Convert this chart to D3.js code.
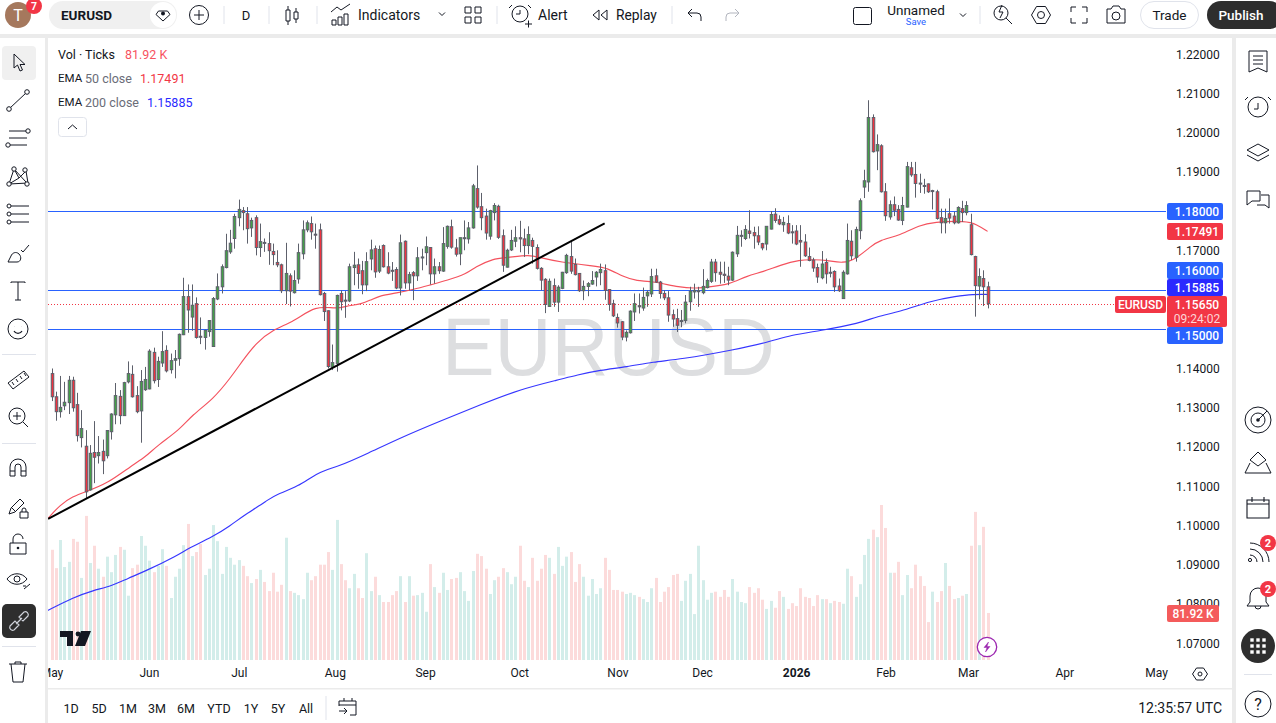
<!DOCTYPE html>
<html>
<head>
<meta charset="utf-8">
<title>EURUSD</title>
<script src="https://cdn.jsdelivr.net/npm/d3@7"></script>
<style>
  html, body { margin: 0; padding: 0; background: #fff; overflow: hidden; }
  svg { display: block; font-family: Roboto, "Liberation Sans", sans-serif; }
  text { fill: #131722; }
</style>
</head>
<body>
<div id="chart"></div>
<script>
// daily candles, May 2025 - Mar 2026
const opens = [
  1.1387,1.1328,1.1290,1.1305,1.1313,1.1370,1.1308,1.1224,1.1202,1.1091,
  1.1186,1.1178,1.1189,1.1178,1.1239,1.1282,1.1329,1.1280,1.1366,1.1385,
  1.1331,1.1292,1.1346,1.1348,1.1441,1.1372,1.1414,1.1446,1.1397,1.1421,
  1.1425,1.1486,1.1583,1.1531,1.1565,1.1482,1.1479,1.1494,1.1456,1.1577,
  1.1608,1.1657,1.1697,1.1731,1.1784,1.1802,1.1794,1.1758,1.1784,1.1708,
  1.1721,1.1718,1.1698,1.1670,1.1664,1.1598,1.1636,1.1593,1.1628,1.1692,
  1.1753,1.1769,1.1742,1.1753,1.1591,1.1547,1.1403,1.1413,1.1591,1.1574,
  1.1572,1.1657,1.1664,1.1649,1.1613,1.1679,1.1705,1.1648,1.1713,1.1659,
  1.1650,1.1652,1.1605,1.1724,1.1618,1.1644,1.1636,1.1682,1.1695,1.1708,
  1.1641,1.1659,1.1648,1.1711,1.1761,1.1707,1.1692,1.1732,1.1730,1.1758,
  1.1858,1.1812,1.1788,1.1737,1.1797,1.1813,1.1738,1.1658,1.1702,1.1724,
  1.1733,1.1730,1.1713,1.1726,1.1708,1.1655,1.1627,1.1558,1.1611,1.1569,
  1.1604,1.1644,1.1685,1.1665,1.1642,1.1598,1.1609,1.1615,1.1633,1.1644,
  1.1649,1.1601,1.1565,1.1530,1.1519,1.1480,1.1491,1.1544,1.1560,1.1554,
  1.1585,1.1590,1.1636,1.1620,1.1591,1.1580,1.1537,1.1527,1.1521,1.1522,
  1.1570,1.1595,1.1596,1.1593,1.1606,1.1622,1.1671,1.1645,1.1640,1.1635,
  1.1625,1.1692,1.1737,1.1731,1.1750,1.1746,1.1738,1.1718,1.1717,1.1755,
  1.1793,1.1779,1.1766,1.1769,1.1748,1.1750,1.1726,1.1722,1.1685,1.1676,
  1.1657,1.1631,1.1670,1.1643,1.1647,1.1610,1.1578,1.1641,1.1724,1.1683,
  1.1751,1.1862,1.1875,1.2039,1.1954,1.1967,1.1850,1.1786,1.1817,1.1805,
  1.1777,1.1811,1.1911,1.1894,1.1872,1.1866,1.1870,1.1851,1.1850,1.1784,
  1.1771,1.1794,1.1788,1.1771,1.1807,1.1797,1.1766,1.1685,1.1610,1.1629,
  1.1608
];
const highs = [
  1.1400,1.1341,1.1381,1.1366,1.1381,1.1379,1.1338,1.1294,1.1243,1.1205,
  1.1266,1.1228,1.1219,1.1243,1.1286,1.1363,1.1345,1.1366,1.1418,1.1408,
  1.1355,1.1396,1.1404,1.1449,1.1453,1.1430,1.1495,1.1459,1.1438,1.1447,
  1.1489,1.1631,1.1614,1.1614,1.1581,1.1530,1.1499,1.1523,1.1582,1.1642,
  1.1665,1.1743,1.1753,1.1794,1.1830,1.1811,1.1811,1.1784,1.1790,1.1769,
  1.1731,1.1747,1.1718,1.1701,1.1667,1.1720,1.1642,1.1650,1.1718,1.1777,
  1.1777,1.1787,1.1769,1.1769,1.1595,1.1548,1.1461,1.1588,1.1599,1.1597,
  1.1667,1.1697,1.1680,1.1674,1.1696,1.1728,1.1713,1.1713,1.1716,1.1696,
  1.1671,1.1658,1.1741,1.1726,1.1646,1.1648,1.1709,1.1705,1.1736,1.1709,
  1.1680,1.1671,1.1760,1.1764,1.1779,1.1730,1.1733,1.1777,1.1773,1.1870,
  1.1917,1.1847,1.1807,1.1804,1.1821,1.1817,1.1754,1.1705,1.1753,1.1762,
  1.1776,1.1756,1.1762,1.1733,1.1716,1.1658,1.1630,1.1629,1.1629,1.1612,
  1.1646,1.1692,1.1724,1.1680,1.1643,1.1624,1.1620,1.1648,1.1648,1.1667,
  1.1665,1.1601,1.1575,1.1540,1.1521,1.1497,1.1548,1.1591,1.1591,1.1606,
  1.1599,1.1654,1.1654,1.1623,1.1599,1.1597,1.1550,1.1552,1.1549,1.1587,
  1.1608,1.1616,1.1608,1.1653,1.1629,1.1679,1.1679,1.1672,1.1672,1.1659,
  1.1698,1.1763,1.1752,1.1765,1.1803,1.1761,1.1762,1.1720,1.1762,1.1801,
  1.1808,1.1790,1.1786,1.1790,1.1765,1.1765,1.1765,1.1742,1.1708,1.1682,
  1.1667,1.1699,1.1680,1.1659,1.1650,1.1629,1.1650,1.1769,1.1752,1.1761,
  1.1833,1.1906,1.2083,1.2047,1.1996,1.1971,1.1872,1.1828,1.1838,1.1816,
  1.1837,1.1926,1.1926,1.1926,1.1896,1.1883,1.1871,1.1855,1.1855,1.1807,
  1.1807,1.1833,1.1799,1.1813,1.1827,1.1826,1.1794,1.1687,1.1655,1.1650,
  1.1621
];
const lows = [
  1.1317,1.1267,1.1275,1.1294,1.1284,1.1290,1.1214,1.1199,1.1069,1.1089,
  1.1108,1.1158,1.1131,1.1171,1.1219,1.1258,1.1258,1.1279,1.1362,1.1326,
  1.1286,1.1211,1.1343,1.1347,1.1362,1.1353,1.1404,1.1390,1.1387,1.1375,
  1.1407,1.1485,1.1491,1.1496,1.1476,1.1462,1.1448,1.1481,1.1455,1.1574,
  1.1591,1.1655,1.1692,1.1705,1.1762,1.1752,1.1718,1.1735,1.1688,1.1684,
  1.1697,1.1664,1.1663,1.1658,1.1592,1.1564,1.1558,1.1591,1.1616,1.1678,
  1.1747,1.1728,1.1705,1.1586,1.1521,1.1400,1.1396,1.1392,1.1548,1.1529,
  1.1569,1.1612,1.1603,1.1589,1.1597,1.1650,1.1631,1.1643,1.1657,1.1640,
  1.1623,1.1602,1.1586,1.1603,1.1599,1.1574,1.1623,1.1650,1.1663,1.1614,
  1.1616,1.1641,1.1646,1.1705,1.1705,1.1685,1.1663,1.1701,1.1718,1.1756,
  1.1807,1.1752,1.1728,1.1728,1.1777,1.1730,1.1646,1.1657,1.1699,1.1709,
  1.1696,1.1684,1.1691,1.1667,1.1652,1.1599,1.1541,1.1557,1.1557,1.1544,
  1.1602,1.1641,1.1641,1.1637,1.1595,1.1574,1.1584,1.1613,1.1609,1.1612,
  1.1575,1.1547,1.1531,1.1504,1.1472,1.1469,1.1489,1.1521,1.1540,1.1547,
  1.1557,1.1582,1.1618,1.1578,1.1574,1.1519,1.1506,1.1493,1.1505,1.1515,
  1.1547,1.1578,1.1557,1.1589,1.1604,1.1618,1.1621,1.1616,1.1618,1.1612,
  1.1623,1.1684,1.1710,1.1727,1.1731,1.1705,1.1714,1.1701,1.1701,1.1754,
  1.1771,1.1765,1.1748,1.1742,1.1718,1.1714,1.1659,1.1684,1.1673,1.1646,
  1.1618,1.1627,1.1616,1.1632,1.1595,1.1595,1.1577,1.1639,1.1676,1.1672,
  1.1729,1.1834,1.1850,1.1950,1.1905,1.1848,1.1776,1.1779,1.1788,1.1776,
  1.1765,1.1810,1.1888,1.1835,1.1847,1.1845,1.1847,1.1805,1.1779,1.1744,
  1.1744,1.1769,1.1767,1.1769,1.1773,1.1790,1.1688,1.1532,1.1576,1.1559,
  1.1553
];
const closes = [
  1.1328,1.1290,1.1301,1.1314,1.1370,1.1300,1.1229,1.1247,1.1086,1.1184,
  1.1174,1.1186,1.1165,1.1242,1.1284,1.1331,1.1280,1.1364,1.1387,1.1328,
  1.1290,1.1367,1.1372,1.1444,1.1369,1.1418,1.1443,1.1394,1.1420,1.1425,
  1.1487,1.1583,1.1549,1.1561,1.1479,1.1481,1.1497,1.1522,1.1578,1.1608,
  1.1659,1.1700,1.1719,1.1787,1.1805,1.1797,1.1756,1.1777,1.1708,1.1723,
  1.1719,1.1700,1.1690,1.1664,1.1598,1.1642,1.1597,1.1624,1.1695,1.1753,
  1.1771,1.1748,1.1740,1.1588,1.1545,1.1405,1.1415,1.1586,1.1570,1.1572,
  1.1659,1.1663,1.1642,1.1613,1.1672,1.1702,1.1646,1.1703,1.1659,1.1643,
  1.1649,1.1605,1.1720,1.1618,1.1639,1.1636,1.1682,1.1684,1.1710,1.1641,
  1.1659,1.1649,1.1718,1.1762,1.1709,1.1691,1.1733,1.1733,1.1758,1.1865,
  1.1811,1.1784,1.1745,1.1802,1.1815,1.1734,1.1663,1.1701,1.1726,1.1733,
  1.1730,1.1713,1.1741,1.1711,1.1655,1.1625,1.1563,1.1622,1.1569,1.1607,
  1.1645,1.1688,1.1648,1.1639,1.1598,1.1609,1.1616,1.1624,1.1645,1.1652,
  1.1599,1.1563,1.1534,1.1516,1.1480,1.1492,1.1546,1.1565,1.1557,1.1581,
  1.1594,1.1634,1.1620,1.1591,1.1580,1.1536,1.1526,1.1510,1.1522,1.1569,
  1.1597,1.1599,1.1598,1.1609,1.1624,1.1671,1.1644,1.1640,1.1637,1.1625,
  1.1696,1.1739,1.1739,1.1754,1.1744,1.1738,1.1722,1.1707,1.1762,1.1792,
  1.1777,1.1768,1.1772,1.1745,1.1746,1.1717,1.1722,1.1687,1.1675,1.1656,
  1.1633,1.1666,1.1641,1.1645,1.1608,1.1598,1.1645,1.1726,1.1687,1.1754,
  1.1827,1.1878,1.2039,1.1952,1.1970,1.1850,1.1789,1.1817,1.1803,1.1778,
  1.1815,1.1914,1.1893,1.1871,1.1870,1.1864,1.1850,1.1853,1.1782,1.1771,
  1.1782,1.1783,1.1771,1.1810,1.1797,1.1815,1.1690,1.1611,1.1634,1.1608,
  1.1565
];
// tick volume, in thousands
const volumes = [
  192,160,209,162,171,211,206,143,251,169,199,159,145,180,153,183,197,192,112,160,
  166,216,199,173,153,164,193,164,108,145,159,200,237,181,188,202,148,159,235,207,
  150,197,178,166,174,164,146,134,141,157,136,120,152,119,131,213,120,117,113,106,
  152,139,146,166,166,188,157,244,167,139,125,150,125,108,186,120,145,113,101,101,
  113,120,146,101,146,112,113,117,84,167,127,117,152,122,141,143,153,120,103,155,
  185,181,159,115,139,145,160,153,132,145,199,138,127,178,138,159,183,178,150,197,
  164,180,188,136,167,145,112,141,115,125,178,157,122,122,119,115,117,113,110,106,
  101,125,143,101,119,127,148,150,103,138,150,80,199,139,105,117,119,110,122,110,
  141,119,101,99,127,117,125,105,89,103,91,120,110,89,99,94,125,110,108,94,
  113,106,106,99,103,101,98,159,146,110,132,183,211,227,214,270,230,152,152,171,
  113,148,125,166,146,129,66,119,101,120,169,129,106,108,112,115,199,258,200,232,
  81.92
];

// moving averages, sampled along the drawn lines: bar position + value
const ema50Bars = [-1,2,5,8,13,19,22,25,30,33,38,42,45,48,52,57,62,67,70,72.5,75,77.2,81.1,85,89.4,92.9,97.6,99.5,103.8,107,112.4,114.8,119.5,127.3,130.5,134.4,137.5,141.4,147.7,151.6,154.8,159.3,163.4,167.3,171.2,175.9,179,182.2,186,189.2,192.4,194.7,199.4,204.1,207.2,215,217.4,220];
const ema50Values = [1.1016,1.1053,1.1074,1.1086,1.1106,1.1154,1.1174,1.1205,1.1243,1.1281,1.1322,1.1375,1.1421,1.1464,1.1499,1.1519,1.1561,1.1551,1.1561,1.1563,1.1574,1.1586,1.1592,1.1601,1.1614,1.1624,1.1641,1.1658,1.1680,1.1682,1.1690,1.1682,1.1671,1.1661,1.1657,1.1633,1.1623,1.1622,1.1606,1.1604,1.1608,1.1614,1.1636,1.1646,1.1663,1.1677,1.1677,1.1676,1.1667,1.1680,1.1710,1.1727,1.1739,1.1765,1.1773,1.1776,1.1767,1.17491];
const ema200Bars = [-1,5.1,9.8,14.1,18,21.9,29.8,32.1,38,41.9,45.4,50.9,52.5,58,62.7,67.4,74.4,81.9,91.3,100.7,110.1,119.5,123.4,128.9,135.2,141.4,147.7,160.2,168.9,173.6,180.6,190,194,199.4,206.5,212.7,216.6,220];
const ema200Values = [1.0783,1.0817,1.0835,1.0846,1.0866,1.0883,1.0925,1.0942,1.0972,1.0999,1.1027,1.1065,1.1078,1.1099,1.1137,1.1150,1.1184,1.1223,1.1266,1.1307,1.1347,1.1372,1.1383,1.1396,1.1404,1.1417,1.1423,1.1447,1.1468,1.1485,1.1496,1.1515,1.1533,1.1544,1.1572,1.1584,1.1589,1.15885];

// hand drawn levels on the chart
const levels = [1.18, 1.16, 1.15];
const trendBars = [-0.8, 130];
const trendPrices = [1.1017, 1.17695];
const lastPrice = 1.1565;

const priceTicks = [1.22,1.21,1.20,1.19,1.17,1.14,1.13,1.12,1.11,1.10,1.09,1.08,1.07];
const monthBars = [0,22.9,44,66.6,87.8,109.9,133,152.9,175,196,215.4,238,259.6];
const monthLabels = ["May","Jun","Jul","Aug","Sep","Oct","Nov","Dec","2026","Feb","Mar","Apr","May"];
const ranges = [["1D",71],["5D",99],["1M",128],["3M",157],["6M",186],["YTD",219],["1Y",251],["5Y",278],["All",306]];

const width = 1276, height = 723;
const UP = "#43a047", DOWN = "#ef3340", WICK = "#5d606b";

const svg = d3.select("#chart").append("svg")
  .attr("width", width).attr("height", height);

const x = d3.scaleLinear().domain([0, 220]).range([51.5, 987.6]);
const y = d3.scaleLinear().domain([1.07, 1.22]).range([643.4, 54.3]);
const yVol = d3.scaleLinear().domain([0, 270]).range([660, 505]);

svg.append("rect").attr("width", width).attr("height", height).attr("fill", "#fff");

const plot = svg.append("g");

// volume
plot.append("g").selectAll("rect")
  .data(volumes)
  .join("rect")
  .attr("x", (d, i) => Math.round(x(i)) - 1)
  .attr("y", d => yVol(d))
  .attr("width", 3)
  .attr("height", d => yVol(0) - yVol(d))
  .attr("fill", (d, i) => closes[i] >= opens[i] ? "#d3edea" : "#fcdbdb");

// watermark
plot.append("text")
  .attr("x", 442).attr("y", 375)
  .attr("font-family", "Liberation Sans")
  .attr("font-size", 81)
  .attr("textLength", 333)
  .attr("lengthAdjust", "spacingAndGlyphs")
  .style("fill", "#dddee0")
  .text("EURUSD");

// levels
plot.append("g").selectAll("line")
  .data(levels)
  .join("line")
  .attr("x1", 48).attr("x2", 1166)
  .attr("y1", d => Math.round(y(d)) + 0.5)
  .attr("y2", d => Math.round(y(d)) + 0.5)
  .attr("stroke", "#2962ff");

plot.append("line")
  .attr("x1", 48).attr("x2", 1166)
  .attr("y1", Math.round(y(lastPrice)) + 0.5)
  .attr("y2", Math.round(y(lastPrice)) + 0.5)
  .attr("stroke", "#f23645")
  .attr("stroke-dasharray", "1 2");

// moving averages
const bandLine = d3.line()
  .x(d => x(d[0]))
  .y(d => y(d[1]))
  .curve(d3.curveBasis);

plot.append("path")
  .attr("d", bandLine(d3.zip(ema50Bars, ema50Values)))
  .attr("fill", "none").attr("stroke", "#f4525e").attr("stroke-width", 1.15);
plot.append("path")
  .attr("d", bandLine(d3.zip(ema200Bars, ema200Values)))
  .attr("fill", "none").attr("stroke", "#3636ff").attr("stroke-width", 1.15);

// candles
const candle = plot.append("g").selectAll("g")
  .data(closes)
  .join("g")
  .attr("transform", (d, i) => `translate(${Math.round(x(i)) + 0.5},0)`);

candle.append("line")
  .attr("y1", (d, i) => y(highs[i]))
  .attr("y2", (d, i) => y(lows[i]))
  .attr("stroke", WICK);

candle.append("rect")
  .attr("x", -1.25)
  .attr("width", 2.5)
  .attr("y", (d, i) => y(Math.max(opens[i], closes[i])))
  .attr("height", (d, i) => Math.max(1, Math.abs(y(opens[i]) - y(closes[i]))))
  .attr("fill", (d, i) => closes[i] >= opens[i] ? UP : DOWN)
  .attr("stroke", WICK)
  .attr("stroke-width", 1);

// trend line
plot.append("line")
  .attr("x1", x(trendBars[0])).attr("y1", y(trendPrices[0]))
  .attr("x2", x(trendBars[1])).attr("y2", y(trendPrices[1]))
  .attr("stroke", "#000").attr("stroke-width", 2);

// axes
const yAxis = d3.axisRight(y)
  .tickValues(priceTicks)
  .tickSize(0).tickPadding(0)
  .tickFormat(d3.format(".5f"));
const yAxisG = svg.append("g").attr("transform", "translate(1176,0)").call(yAxis);
yAxisG.select(".domain").remove();
yAxisG.selectAll("text").attr("font-family", "Roboto").attr("font-size", 12).style("fill", "#131722");

const xAxis = d3.axisBottom(x)
  .tickValues(monthBars)
  .tickSize(0).tickPadding(0)
  .tickFormat((d, i) => monthLabels[i]);
const xAxisG = svg.append("g").attr("transform", "translate(0,668.5)").call(xAxis);
xAxisG.select(".domain").remove();
xAxisG.selectAll("text")
  .attr("font-family", "Roboto").attr("font-size", 12)
  .attr("font-weight", (d, i) => monthLabels[i] === "2026" ? "bold" : null)
  .style("fill", "#131722");

// chrome around the chart
const chrome = svg.append("g");
const band = (bx, by, bw, bh, fill) => chrome.append("rect").attr("x", bx).attr("y", by).attr("width", bw).attr("height", bh).attr("fill", fill);
band(0, 0, width, 34, "#fff");
band(0, 34, width, 4, "#ebebeb");
band(0, 38, 45, height - 38, "#fff");
band(45, 34, 3, height - 34, "#ebebeb");
band(1232, 34, 4, height - 34, "#ebebeb");
band(1236, 38, 40, height - 38, "#fff");
band(48, 688, 1184, 1.5, "#ebebeb");

// price labels
function priceTag(tx, ty, tw, th, fill, label, textX) {
  chrome.append("rect").attr("x", tx).attr("y", ty).attr("width", tw).attr("height", th).attr("rx", 2).attr("fill", fill);
  chrome.append("text").attr("x", textX).attr("y", ty + 8.4).attr("dy", "0.36em")
    .attr("text-anchor", "middle").attr("font-size", 12).attr("font-weight", 500).style("fill", "#fff").text(label);
}
priceTag(1167, 203, 56, 17, "#2962ff", d3.format(".5f")(levels[0]), 1197);
priceTag(1167, 223, 56, 17, "#f23645", "1.17491", 1197);
priceTag(1167, 262, 56, 17, "#2962ff", d3.format(".5f")(levels[1]), 1197);
priceTag(1167, 279, 56, 17, "#2a2aff", "1.15885", 1197);
priceTag(1115, 296, 51, 17, "#f23645", "EURUSD", 1140.5);
priceTag(1167, 296, 60, 31, "#f23645", "1.15650", 1197);
chrome.append("text").attr("x", 1197).attr("y", 319).attr("dy", "0.36em").attr("text-anchor", "middle")
  .attr("font-size", 12).style("fill", "#fcd5d8").text("09:24:02");
priceTag(1167, 327, 56, 17, "#2962ff", d3.format(".5f")(levels[2]), 1197);
priceTag(1167, 605, 52, 17, "#f45b5b", "81.92 K", 1193);

// legend
function txt(tx, ty, s, opts = {}) {
  const t = chrome.append("text").attr("x", tx).attr("y", ty).attr("dy", "0.36em")
    .attr("font-size", opts.size || 13).style("fill", opts.color || "#131722").text(s);
  if (opts.anchor) t.attr("text-anchor", opts.anchor);
  if (opts.weight) t.attr("font-weight", opts.weight);
  return t;
}
txt(58, 54, "Vol · Ticks", { size: 12.5 });
txt(125, 54, "81.92 K", { size: 12.5, color: "#f7525f" });
txt(58, 78, "EMA", { size: 11.5 });
txt(85, 78, "50 close", { size: 12.5, color: "#6a6d78" });
txt(140, 78, "1.17491", { size: 12.5, color: "#f23645" });
txt(58, 102, "EMA", { size: 11.5 });
txt(85, 102, "200 close", { size: 12.5, color: "#6a6d78" });
txt(147, 102, "1.15885", { size: 12.5, color: "#2a2aff" });
chrome.append("rect").attr("x", 58.5).attr("y", 117.5).attr("width", 28).attr("height", 19).attr("rx", 3)
  .attr("fill", "#fff").attr("stroke", "#e0e3eb");
chrome.append("path").attr("d", "M68 129l4.5-4 4.5 4").attr("fill", "none").attr("stroke", "#131722");

// top bar
function icon(ix, iy, d, opts = {}) {
  return chrome.append("path").attr("transform", `translate(${ix},${iy})`).attr("d", d)
    .attr("fill", opts.fill || "none").attr("stroke", opts.stroke || "#131722").attr("stroke-width", opts.sw || 1);
}
const sep = (sx, y1, y2) => chrome.append("line").attr("x1", sx).attr("x2", sx).attr("y1", y1).attr("y2", y2).attr("stroke", "#e0e3eb");
const hsep = (sy, x1, x2) => chrome.append("line").attr("x1", x1).attr("x2", x2).attr("y1", sy).attr("y2", sy).attr("stroke", "#e0e3eb");
const circle = (cx, cy, r, fill, stroke) => chrome.append("circle").attr("cx", cx).attr("cy", cy).attr("r", r).attr("fill", fill || "none").attr("stroke", stroke || "none");

circle(18, 15, 13, "#a5785d");
txt(18, 15, "T", { size: 16, color: "#fff", anchor: "middle" });
circle(34, 6, 8, "#f23645");
txt(34, 6, "7", { size: 10.5, color: "#fff", anchor: "middle", weight: 700 });

chrome.append("rect").attr("x", 49).attr("y", 1).attr("width", 128).attr("height", 28).attr("rx", 14).attr("fill", "#f0f0f0");
txt(61, 15, "EURUSD", { size: 13.5, weight: 700 });
circle(163, 15, 13, "#fff");
icon(163, 15, "M-4.5-4h9l2.5 3.5-7 6.5-7-6.5z");
circle(163, 13.5, 2, "#131722");
circle(199, 15, 9.5, null, "#131722");
icon(199, 15, "M-5 0h10M0-5v10");
sep(224, 6, 24);
txt(246, 15, "D", { size: 13, anchor: "middle" });
sep(269, 6, 24);
icon(292, 15, "M-6-5h4v11h-4zM-4-9v4M-4 6v4M2-3h4v7h-4zM4-7v4M4 4v4");
sep(317, 6, 24);
icon(341, 15, "M-9 10v-5h4v5zM-3 10v-8h4v8zM3 10v-11h4v11zM-10-3l6-5 4 3 9-6");
txt(358, 15, "Indicators", { size: 14 });
icon(442, 14, "M-3-1.5l3 3 3-3");
icon(473, 15, "M-8-8h6v6h-6zM2-8h6v6h-6zM-8 2h6v6h-6zM2 2h6v6h-6z");
sep(497, 6, 24);
circle(520, 14, 8, null, "#131722");
icon(520, 14, "M0-4v4h-4M-8-9l-3 3M8-9l3 3M5 10h7M8.5 6.5v7");
txt(538, 15, "Alert", { size: 14 });
icon(600, 15, "M-1-5l-6 5 6 5zM7-5l-6 5 6 5z");
txt(616, 15, "Replay", { size: 13.8 });
sep(672, 6, 24);
icon(695, 15, "M-7-2h9a4 4 0 0 1 4 4v4M-3-6l-4 4 4 4");
icon(732, 15, "M7-2h-9a4 4 0 0 0-4 4v4M3-6l4 4-4 4", { stroke: "#b2b5be" });
chrome.append("rect").attr("x", 853.5).attr("y", 7.5).attr("width", 18).attr("height", 17).attr("rx", 2).attr("fill", "none").attr("stroke", "#131722");
txt(916, 10, "Unnamed", { size: 13.5, anchor: "middle" });
txt(916, 22, "Save", { size: 9.5, color: "#2962ff", anchor: "middle" });
icon(963, 15, "M-3-1.5l3 3 3-3");
sep(980, 6, 24);
circle(1001, 13, 7, null, "#131722");
icon(1001, 13, "M5 5l6 6M1-8l-3 7h4l-3 6");
icon(1041, 15, "M-4.5-8.5h9l5 8.5-5 8.5h-9l-5-8.5z");
circle(1041, 15, 3.5, null, "#131722");
icon(1079, 15, "M-8-3v-5h5M3-8h5v5M8 3v5h-5M-3 8h-5v-5");
icon(1116, 15, "M-9-6h4l2-3h6l2 3h4v14h-18z");
circle(1116, 16, 4, null, "#131722");
chrome.append("rect").attr("x", 1140.5).attr("y", 1.5).attr("width", 58).attr("height", 27).attr("rx", 13.5).attr("fill", "#fff").attr("stroke", "#e0e3eb");
txt(1169.5, 15, "Trade", { size: 13.5, anchor: "middle" });
chrome.append("rect").attr("x", 1207).attr("y", 1).attr("width", 76).attr("height", 28).attr("rx", 14).attr("fill", "#2e2e2e");
txt(1241, 15, "Publish", { size: 13.5, color: "#fff", anchor: "middle", weight: 500 });

// left tools
chrome.append("rect").attr("x", 2).attr("y", 46).attr("width", 34).attr("height", 34).attr("rx", 4).attr("fill", "#f0f0f0");
icon(18, 63, "M-4-9l0 14 3.5-3 2.5 6 2.5-1-2.5-5.5h5z");
icon(18, 101, "M-8 7l16-15");
circle(9, 109, 2.3, "#fff", "#131722"); circle(27, 92, 2.3, "#fff", "#131722");
icon(18, 138, "M-9-7h18M-9 0h18M-9 7h18");
circle(28, 131, 2.2, "#fff", "#131722"); circle(8, 145, 2.2, "#fff", "#131722");
icon(18, 176, "M-9 8l5-15 5 9 7-7 2 12zM-4-7l12 13M-9 8l10-6");
circle(9, 184, 2.2, "#fff", "#131722"); circle(14, 169, 2.2, "#fff", "#131722"); circle(25, 170, 2.2, "#fff", "#131722"); circle(27, 184, 2.2, "#fff", "#131722");
icon(18, 214, "M-7-8h18M-7 0h18M-7 8h18");
circle(9, 206, 2, "#fff", "#131722"); circle(9, 214, 2, "#fff", "#131722"); circle(9, 222, 2, "#fff", "#131722");
icon(18, 254, "M-10 8h9c4 0 5-5 2-8s-7-1-8 2zM3-4l2 2 6-7");
icon(18, 291, "M-7-8v-1h14v1M0-9v18M-3 9h6");
circle(18, 329, 10, null, "#131722");
icon(18, 329, "M-4 2a4.5 4.5 0 0 0 8 0M-3.5-2.5h.1M3.5-2.5h.1", { sw: 1.2 });
hsep(354.5, 2, 36);
icon(18, 380, "M-10 3l16-12 5 6-16 12zM-6 2l2 3M-2-1l2 3M2-4l2 3M6-7l2 3");
circle(17, 416, 8, null, "#131722");
icon(17, 416, "M-4 0h8M0-4v8M6 6l5 5");
hsep(443.5, 2, 36);
icon(18, 468, "M-8 8v-9a8 8 0 0 1 16 0v9h-5v-9a3 3 0 0 0-6 0v9zM-8 3h5M3 3h5");
icon(17, 506, "M-8 8l2-6 9-9 4 4-9 9zM-5 2l4 4");
icon(24, 512, "M-4 0h8v6h-8zM-2 0v-2a2 2 0 0 1 4 0v2");
icon(18, 545, "M-8-2h16v11h-16zM-5-2v-4a5 5 0 0 1 10 0");
circle(18, 548, 1.3, "#131722");
icon(17, 579, "M-10 0c5-7 15-7 20 0c-5 7-15 7-20 0z");
circle(17, 579, 3, null, "#131722");
icon(27, 586, "M-3 3l6-5M-4 0h3");
chrome.append("rect").attr("x", 2).attr("y", 604).attr("width", 34).attr("height", 34).attr("rx", 5).attr("fill", "#2e2e2e");
icon(19, 621, "M-9 5l5-5 4 4-5 5a3 3 0 0 1-4-4zM9-5l-5 5-4-4 5-5a3 3 0 0 1 4 4zM-3 3l6-6", { stroke: "#d1d4dc", sw: 1.2 });
hsep(646.5, 2, 36);
icon(18, 672, "M-9-8h18M-7-8l2 18h10l2-18M-3-8v-2h6v2");

// right tools
icon(1258, 62, "M-9-11h18v21l-9-4-9 4zM-5-6h10M-5-2h10M-5 2h10");
circle(1258, 107, 10, null, "#131722");
icon(1258, 107, "M0-4v6h-4M-10-10l-3 3M10-10l3 3");
icon(1258, 153, "M0-9l11 6-11 6-11-6zM-11 2l11 6 11-6");
icon(1258, 200, "M-11-9h13v10h-8l-5 4zM3-5h8v13l-4-3h-8");
circle(1258, 420, 13, null, "#131722");
circle(1258, 420, 7, null, "#131722");
circle(1258, 420, 1.8, "#131722");
icon(1258, 420, "M0 0l9-9");
icon(1258, 463, "M0-11l8 8-8 6-8-6zM-8 0l-5 10h26l-5-10");
icon(1258, 507, "M-11-7h22v18h-22zM-6-10v5M6-10v5M-11-3h22", { sw: 1.1 });
icon(1250, 562, "M0-7a7 7 0 0 1 7 7M0-13a13 13 0 0 1 13 13M0-19a19 19 0 0 1 19 19");
circle(1250, 560, 1.6, null, "#131722");
circle(1268, 543, 8, "#f23645");
txt(1268, 543, "2", { size: 11, color: "#fff", anchor: "middle", weight: 700 });
icon(1258, 599, "M-11 7h22l-3-4v-6a8 8 0 0 0-16 0v6zM-3 7a3 3 0 0 0 6 0");
circle(1268, 589, 8, "#f23645");
txt(1268, 589, "2", { size: 11, color: "#fff", anchor: "middle", weight: 700 });
circle(1258, 646, 17, "#2e2e2e");
const gridDots = [-6, 0, 6];
gridDots.forEach(a => gridDots.forEach(b =>
  chrome.append("rect").attr("x", 1258 + a - 1.7).attr("y", 646 + b - 1.7).attr("width", 3.4).attr("height", 3.4).attr("fill", "#fff")));
hsep(674.5, 1244, 1272);
circle(1258, 704, 13, null, "#131722");
txt(1258, 704, "?", { size: 16, anchor: "middle" });

// time axis corner
icon(1200, 674, "M-3.5-6h7l4 6-4 6h-7l-4-6z");
circle(1200, 674, 2, null, "#131722");

// bottom bar
ranges.forEach(([label, rx]) => txt(rx, 708, label, { size: 12.5, anchor: "middle" }));
sep(326, 696, 720);
icon(348, 707, "M-9-6h17v4h-17M-4-9v3M4-9v3M8-2v10h-6M-9 4h7M-4 1l3 3-3 3M-9-6v5");
txt(1222, 708, "12:35:57 UTC", { size: 14, anchor: "end" });

// logo + marker on the chart
chrome.append("path").attr("transform", "translate(60,631)")
  .attr("d", "M0 0h13v15h-6v-9h-7zM15 15l6-15h10l-6 15z").attr("fill", "#131722").attr("stroke", "none");
circle(78, 634, 2.4, "#131722");
circle(987, 647, 9.7, "#fff", "#9c27b0").attr("stroke-width", 1.3);
icon(987, 647, "M1.5-5l-4.5 5.5h3l-1.5 4.5 4.5-5.5h-3z", { fill: "#9c27b0", stroke: "#9c27b0", sw: 0.5 });
</script>
</body>
</html>
